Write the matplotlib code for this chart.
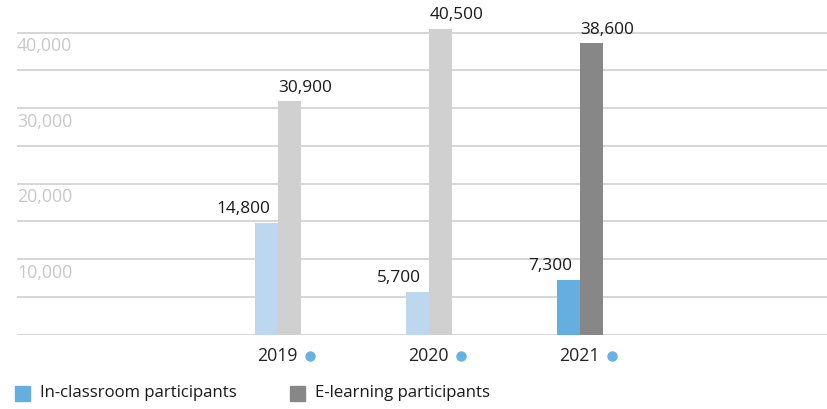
import numpy as np
import matplotlib.pyplot as plt
from matplotlib.patches import Rectangle
from matplotlib.transforms import blended_transform_factory

years = ["2019", "2020", "2021"]
classroom = [14800, 5700, 7300]
elearning = [30900, 40500, 38600]
y_labels = [10000, 20000, 30000, 40000]
legend_labels = ["In-classroom participants", "E-learning participants"]

# earlier years are shown faded, the current year in full colour
blue_cols = ["#bdd7ee", "#bdd7ee", "#65aee0"]
grey_cols = ["#d0d0d0", "#d0d0d0", "#878787"]

plt.rcParams['font.family'] = ['Open Sans', 'DejaVu Sans']

fig = plt.figure(figsize=(8.27, 4.09), dpi=100)
ax = fig.add_axes([17 / 827, 0.1817, 1 - 17 / 827, 0.8183])

x = np.arange(len(years))
w = 0.152

ax.bar(x - w / 2, classroom, w, color=blue_cols, zorder=3)
ax.bar(x + w / 2, elearning, w, color=grey_cols, zorder=3)

for i in range(len(years)):
    ax.annotate(f"{classroom[i]:,}", (x[i] - w / 2 + 0.02, classroom[i]),
                xytext=(0, 4), textcoords="offset points",
                ha="right", va="bottom", fontsize=12.4, color="#1a1a1a")
    ax.annotate(f"{elearning[i]:,}", (x[i], elearning[i]),
                xytext=(0, 4), textcoords="offset points",
                ha="left", va="bottom", fontsize=12.4, color="#1a1a1a")

ax.set_xlim(-1.73, 3.634)
ax.set_ylim(0, 44330)
ax.set_yticks(np.arange(0, 45000, 5000))
ax.yaxis.grid(True, color="#d0d0d0", linewidth=1.2, zorder=0)
ax.tick_params(left=False, bottom=False, labelleft=False, labelbottom=False)
for s in ax.spines.values():
    s.set_visible(False)

# value labels sit just under their grid line
ylab_tr = blended_transform_factory(ax.transAxes, ax.transData)
for v in y_labels:
    ax.annotate(f"{v:,}", (0, v), xycoords=ylab_tr,
                xytext=(0, -9.6), textcoords="offset points",
                ha="left", va="center", fontsize=12.8, color="#c8c8c8")

# year labels with a small dot marker
xlab_tr = blended_transform_factory(ax.transData, ax.transAxes)
for i, yr in enumerate(years):
    ax.text(x[i] - 0.005, -0.0637, yr, transform=xlab_tr, ha="center", va="center",
            fontsize=12.8, color="#222222")
    ax.plot(x[i] + 0.21, -0.0637, "o", transform=xlab_tr, ms=7.5,
            color="#65b2e3", mec="none", clip_on=False)

# legend along the bottom
for sx, tx, col, lab in [(15, 40, "#65aee0", legend_labels[0]),
                         (290, 315, "#878787", legend_labels[1])]:
    fig.patches.append(Rectangle((sx / 827, (409 - 400.5) / 409), 15 / 827, 15 / 409,
                                 transform=fig.transFigure, color=col))
    fig.text(tx / 827, (409 - 393) / 409, lab, ha="left", va="center",
             fontsize=12.1, color="#1a1a1a")

fig.savefig("out.png", dpi=100)
